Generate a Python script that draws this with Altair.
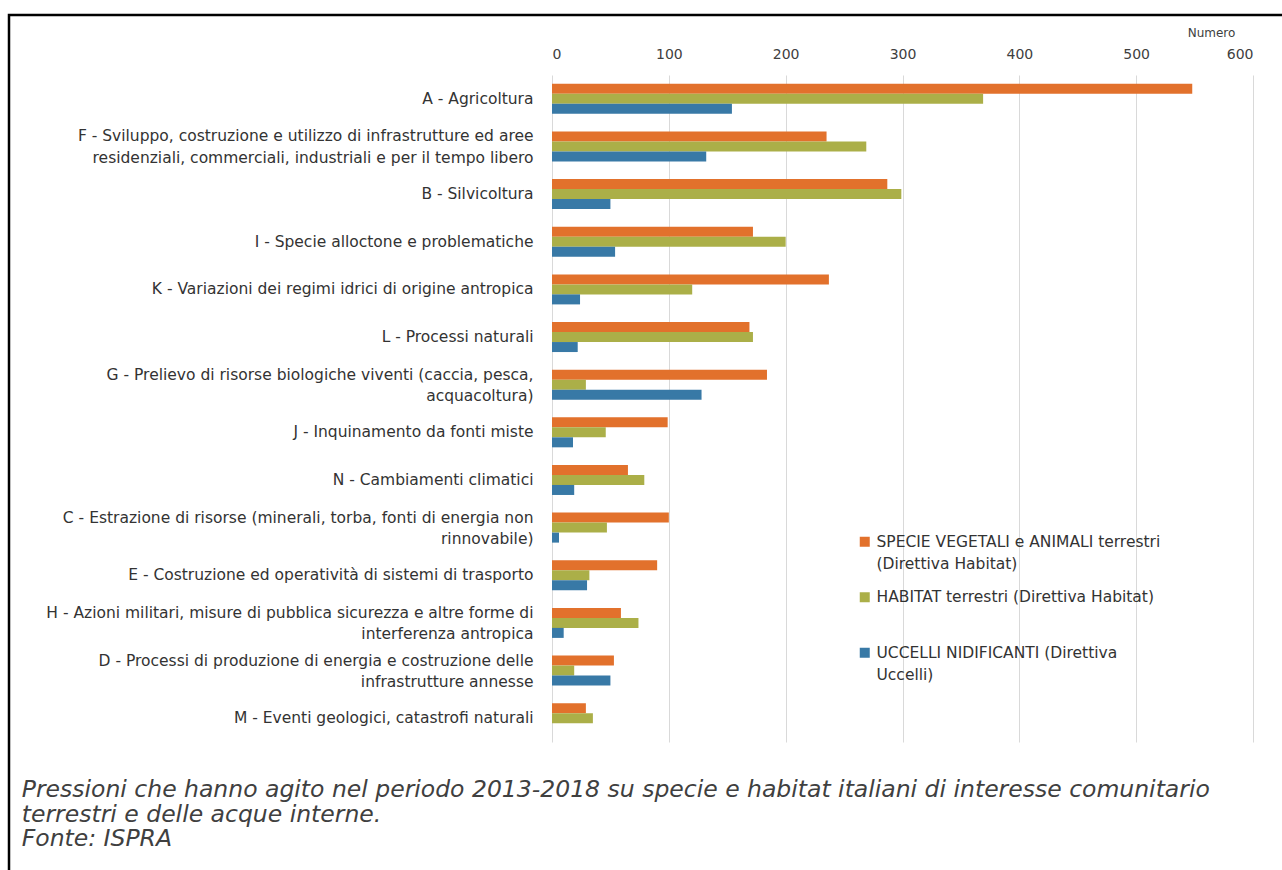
import altair as alt
import pandas as pd

categories = [
    "A - Agricoltura",
    "F - Sviluppo, costruzione e utilizzo di infrastrutture ed aree\nresidenziali, commerciali, industriali e per il tempo libero",
    "B - Silvicoltura",
    "I - Specie alloctone e problematiche",
    "K - Variazioni dei regimi idrici di origine antropica",
    "L - Processi naturali ",
    "G - Prelievo di risorse biologiche viventi (caccia, pesca,\nacquacoltura)",
    "J - Inquinamento da fonti miste",
    "N - Cambiamenti climatici",
    "C - Estrazione di risorse (minerali, torba, fonti di energia non\nrinnovabile)",
    "E - Costruzione ed operatività di sistemi di trasporto",
    "H - Azioni militari, misure di pubblica sicurezza e altre forme di\ninterferenza antropica",
    "D - Processi di produzione di energia e costruzione delle\ninfrastrutture annesse",
    "M - Eventi geologici, catastrofi naturali",
]

series = [
    "SPECIE VEGETALI e ANIMALI terrestri\n(Direttiva Habitat)",
    "HABITAT terrestri (Direttiva Habitat)",
    "UCCELLI NIDIFICANTI (Direttiva\nUccelli)",
]
colors = ["#E2712C", "#ABAF48", "#3879A6"]

specie = [548, 235, 287, 172, 237, 169, 184, 99, 65, 100, 90, 59, 53, 29]
habitat = [369, 269, 299, 200, 120, 172, 29, 46, 79, 47, 32, 74, 19, 35]
uccelli = [154, 132, 50, 54, 24, 22, 128, 18, 19, 6, 30, 10, 50, 0]

x_ticks = [0, 100, 200, 300, 400, 500, 600]

caption = [
    "Pressioni che hanno agito nel periodo 2013-2018 su specie e habitat italiani di interesse comunitario",
    "terrestri e delle acque interne.",
    "Fonte: ISPRA",
]

rows = []
for vals, s in zip([specie, habitat, uccelli], series):
    for c, v in zip(categories, vals):
        rows.append({"cat": c, "serie": s, "valore": v})
df = pd.DataFrame(rows)

FONT = "DejaVu Sans"

bars = alt.Chart(df).mark_bar().encode(
    x=alt.X(
        "valore:Q",
        scale=alt.Scale(domain=[0, 600], nice=False),
        axis=alt.Axis(
            orient="top",
            values=x_ticks,
            domain=False,
            ticks=False,
            tickSize=0,
            labelPadding=14,
            labelFontSize=14,
            labelColor="#404040",
            labelFont=FONT,
            gridColor="#d9d9d9",
            title="Numero",
            titleFontSize=12,
            titleFontWeight="normal",
            titleFont=FONT,
            titleColor="#404040",
            titleX=659,
            titleY=-43,
            titleAlign="center",
            titleBaseline="middle",
        ),
    ),
    y=alt.Y(
        "cat:N",
        sort=categories,
        scale=alt.Scale(paddingInner=0.37, paddingOuter=0.185),
        axis=alt.Axis(
            title=None,
            domain=False,
            ticks=False,
            tickSize=0,
            grid=False,
            labelPadding=19,
            labelFontSize=15.5,
            labelFont=FONT,
            labelColor="#333333",
            labelLimit=600,
            labelLineHeight=21.5,
            labelOffset={"condition": {"test": "indexof(datum.label, '\\n') >= 0", "value": -10}, "value": 0},
            labelExpr="split(datum.label, '\\n')",
        ),
    ),
    yOffset=alt.YOffset("serie:N", sort=series, scale=alt.Scale(domain=series, paddingInner=0, paddingOuter=0)),
    color=alt.Color(
        "serie:N",
        scale=alt.Scale(domain=series, range=colors),
        legend=alt.Legend(
            orient="none",
            legendX=305,
            legendY=459,
            title=None,
            symbolType="square",
            symbolSize=100,
            symbolStrokeWidth=0,
            labelFontSize=15.5,
            labelFont=FONT,
            labelColor="#333333",
            labelLimit=500,
            labelExpr="split(datum.label, '\\n')",
            gridAlign="all",
            rowPadding=16.5,
            labelOffset=4,
        ),
    ),
)

frame = alt.Chart(pd.DataFrame({"a": [0]})).mark_rect(
    filled=False, stroke="black", strokeWidth=2.5
).encode(
    x=alt.value(-543), x2=alt.value(760), y=alt.value(-60), y2=alt.value(810)
)

chart = alt.layer(frame, bars).properties(
    width=701,
    height=667,
    padding={"left": 552, "top": 75, "right": 29, "bottom": 128},
    autosize=alt.AutoSizeParams(type="none"),
    title=alt.TitleParams(
        text=caption,
        orient="bottom",
        anchor="start",
        frame="bounds",
        offset=-108,
        dx=14,
        fontSize=23.5,
        font=FONT,
        fontStyle="italic",
        fontWeight="normal",
        color="#404040",
        lineHeight=24.5,
    ),
).configure(
    background="white",
    style={"guide-label": {"lineHeight": 22}},
).configure_view(stroke=None)

chart.save("out.html", embed_options={"renderer": "svg", "actions": False})
